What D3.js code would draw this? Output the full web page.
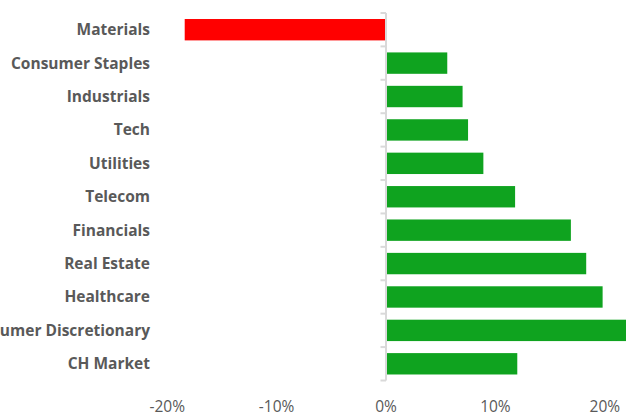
<!DOCTYPE html>
<html>
<head>
<meta charset="utf-8">
<script src="https://cdn.jsdelivr.net/npm/d3@7"></script>
<style>
  html, body { margin: 0; padding: 0; background: #fff; }
  svg { display: block; }
</style>
</head>
<body>
<svg id="chart" width="626" height="414"></svg>
<script>
// Sector returns, top to bottom
const categories = [
  "Materials", "Consumer Staples", "Industrials", "Tech", "Utilities",
  "Telecom", "Financials", "Real Estate", "Healthcare",
  "Consumer Discretionary", "CH Market"
];
const values = [-0.184, 0.056, 0.070, 0.075, 0.089, 0.118, 0.169, 0.183, 0.198, 0.23, 0.120];
const tickValues = [-0.2, -0.1, 0, 0.1, 0.2];
const tickLabels = ["-20%", "-10%", "0%", "10%", "20%"];

const svg = d3.select("#chart");
const textColor = "#595959";
const axisColor = "#d9d9d9";

const x = d3.scaleLinear().domain([-0.2, 0.2]).range([167.2, 604.8]);
const y = d3.scaleBand().domain(categories).range([13, 380.5])
  .paddingInner(0.36).paddingOuter(0.18);

// bars
svg.append("g").selectAll("rect")
  .data(categories)
  .join("rect")
  .attr("x", (c, i) => x(Math.min(0, values[i])))
  .attr("y", c => y(c))
  .attr("width", (c, i) => Math.abs(x(values[i]) - x(0)))
  .attr("height", y.bandwidth())
  .attr("fill", (c, i) => values[i] < 0 ? "#ff0000" : "#0fa31f");

// vertical category axis at zero, with ticks on band boundaries
const half = y.paddingInner() * y.step() / 2;
const bounds = categories.map(c => y(c) - half).concat([y(categories[categories.length - 1]) + y.bandwidth() + half]);
const axisG = svg.append("g");
axisG.append("line")
  .attr("x1", x(0)).attr("x2", x(0))
  .attr("y1", bounds[0]).attr("y2", bounds[bounds.length - 1])
  .attr("stroke", axisColor).attr("stroke-width", 2);
axisG.selectAll("line.tick")
  .data(bounds)
  .join("line")
  .attr("class", "tick")
  .attr("x1", x(0) - 5.5).attr("x2", x(0))
  .attr("y1", d => d).attr("y2", d => d)
  .attr("stroke", axisColor).attr("stroke-width", 2);

// category labels
svg.append("g").selectAll("text")
  .data(categories)
  .join("text")
  .attr("x", 150)
  .attr("y", c => y(c) + y.bandwidth() / 2)
  .attr("dy", "0.35em")
  .attr("text-anchor", "end")
  .attr("font-family", "'Open Sans', sans-serif")
  .attr("font-weight", "bold")
  .attr("font-size", 15.5)
  .attr("fill", textColor)
  .text(c => c);

// percentage tick labels along the bottom
svg.append("g").selectAll("text")
  .data(tickValues)
  .join("text")
  .attr("x", d => x(d))
  .attr("y", 412)
  .attr("text-anchor", "middle")
  .attr("font-family", "'Open Sans', sans-serif")
  .attr("font-size", 15.5)
  .attr("fill", textColor)
  .text((d, i) => tickLabels[i]);
</script>
</body>
</html>
